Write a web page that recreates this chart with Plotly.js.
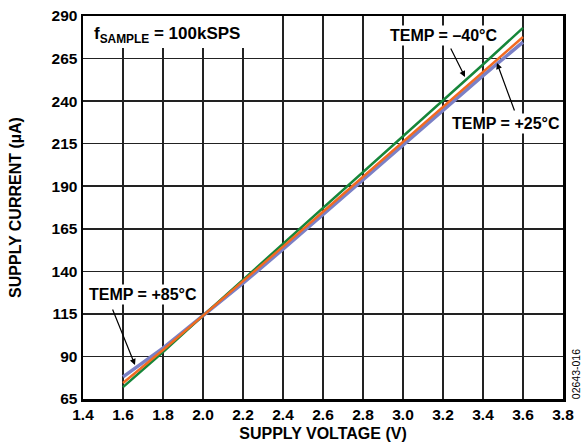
<!DOCTYPE html>
<html><head><meta charset="utf-8">
<script src="https://cdn.plot.ly/plotly-3.0.1.min.js"></script>
<style>html,body{margin:0;padding:0;background:#fff}#chart{width:581px;height:444px}</style>
</head><body><div id="chart"></div>
<script>
var voltage = [1.6, 1.8, 2.0, 2.2, 2.4, 2.6, 2.8, 3.0, 3.2, 3.4, 3.6];
var currentMinus40 = [72, 92.6, 114, 135, 156, 177, 198, 219, 240, 261.5, 283];
var currentPlus25 = [74.4, 93.8, 114, 134, 154.5, 175, 195.5, 216, 237, 257.5, 277.7];
var currentPlus85 = [78, 94.9, 114, 133, 153, 173.5, 194, 214.5, 235, 255, 274.7];
var xTicks = [1.4, 1.6, 1.8, 2.0, 2.2, 2.4, 2.6, 2.8, 3.0, 3.2, 3.4, 3.6, 3.8];
var yTicks = [65, 90, 115, 140, 165, 190, 215, 240, 265, 290];

var F = 'Liberation Sans, Arial, sans-serif';
var traces = [
  {x: voltage, y: currentPlus85, mode: 'lines', line: {color: '#7b80c6', width: 3.5}, name: '+85°C'},
  {x: voltage, y: currentMinus40, mode: 'lines', line: {color: '#16863a', width: 2.5}, name: '-40°C'},
  {x: voltage, y: currentPlus25, mode: 'lines', line: {color: '#f26a21', width: 2.5}, name: '+25°C'}
];
var ann = {font: {family: F, size: 16, color: '#000', weight: 'bold'}, bgcolor: '#fff', borderpad: 1, showarrow: false, xref: 'x', yref: 'y'};
function A(o){return Object.assign({}, ann, o);}
var layout = {
  width: 581, height: 444,
  margin: {l: 83, r: 18, t: 16, b: 45},
  paper_bgcolor: '#fff', plot_bgcolor: '#fff',
  showlegend: false,
  font: {family: F, color: '#000'},
  xaxis: {
    range: [1.4, 3.8], tickvals: xTicks, ticktext: xTicks.map(function(v){return v.toFixed(1);}),
    showgrid: true, gridcolor: '#222', gridwidth: 1.5,
    showline: true, linecolor: '#000', linewidth: 2.5, mirror: true,
    ticks: '', zeroline: false,
    tickfont: {family: F, size: 15.5, weight: 'bold'},
    title: {text: 'SUPPLY VOLTAGE (V)', font: {family: F, size: 16, weight: 'bold'}, standoff: 6}
  },
  yaxis: {
    range: [65, 290], tickvals: yTicks,
    showgrid: true, gridcolor: '#222', gridwidth: 1.5,
    showline: true, linecolor: '#000', linewidth: 2.5, mirror: true,
    ticks: '', zeroline: false,
    tickfont: {family: F, size: 15.5, weight: 'bold'},
    title: {text: 'SUPPLY CURRENT (µA)', font: {family: F, size: 16, weight: 'bold'}, standoff: 26}
  },
  shapes: [
    {type: 'rect', xref: 'x', yref: 'y', x0: 1.4, x1: 2.24, y0: 271.2, y1: 290, fillcolor: '#fff', line: {width: 0}, layer: 'between'}
  ],
  annotations: [
    A({x: 1.445, y: 279, xanchor: 'left', text: 'f<sub>SAMPLE</sub> = 100kSPS', bgcolor: 'rgba(0,0,0,0)', font: {family: F, size: 17, weight: 'bold'}}),
    A({x: 3.2025, y: 278.8, text: 'TEMP = –40°C'}),
    A({x: 3.515, y: 227.1, text: 'TEMP = +25°C'}),
    A({x: 1.6975, y: 126.1, text: 'TEMP = +85°C'}),
    {xref: 'x', yref: 'y', axref: 'x', ayref: 'y', x: 3.31, y: 254.2, ax: 3.235, ay: 271.8, showarrow: true, arrowhead: 2, arrowsize: 1, arrowwidth: 1.2, arrowcolor: '#000', text: ''},
    {xref: 'x', yref: 'y', axref: 'x', ayref: 'y', x: 3.47, y: 262.4, ax: 3.56, ay: 233.6, showarrow: true, arrowhead: 2, arrowsize: 1, arrowwidth: 1.2, arrowcolor: '#000', text: ''},
    {xref: 'x', yref: 'y', axref: 'x', ayref: 'y', x: 1.66, y: 85.0, ax: 1.545, ay: 118.5, showarrow: true, arrowhead: 2, arrowsize: 1, arrowwidth: 1.2, arrowcolor: '#000', text: ''},
    {xref: 'paper', yref: 'paper', x: 1.0285, y: 0.064, xanchor: 'center', yanchor: 'middle', textangle: -90, showarrow: false, text: '02643-016', font: {family: F, size: 10.5, color: '#000'}}
  ]
};
Plotly.newPlot('chart', traces, layout, {displayModeBar: false, staticPlot: true});
</script></body></html>
